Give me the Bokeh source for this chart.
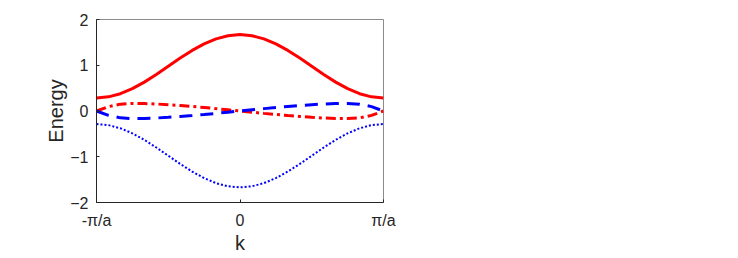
from bokeh.plotting import figure
from bokeh.models import FixedTicker, Range1d
from bokeh.embed import file_html
from bokeh.resources import INLINE

# k in units of pi/a
k = [-1.0, -0.9167, -0.8333, -0.75, -0.6667, -0.5833, -0.5, -0.4167, -0.3333, -0.25, -0.1667, -0.0833,
     0.0, 0.0833, 0.1667, 0.25, 0.3333, 0.4167, 0.5, 0.5833, 0.6667, 0.75, 0.8333, 0.9167, 1.0]

band_top = [0.285, 0.309, 0.378, 0.488, 0.631, 0.798, 0.978, 1.157, 1.324, 1.467, 1.577, 1.646,
            1.670, 1.646, 1.577, 1.467, 1.324, 1.157, 0.978, 0.798, 0.631, 0.488, 0.378, 0.309, 0.285]
band_mid_red = [0.0, 0.095, 0.150, 0.165, 0.162, 0.153, 0.138, 0.120, 0.099, 0.076, 0.052, 0.026,
                0.0, -0.026, -0.052, -0.076, -0.099, -0.120, -0.138, -0.153, -0.162, -0.165, -0.150, -0.095, 0.0]
band_mid_blue = [0.0, -0.095, -0.150, -0.165, -0.162, -0.153, -0.138, -0.120, -0.099, -0.076, -0.052, -0.026,
                 0.0, 0.026, 0.052, 0.076, 0.099, 0.120, 0.138, 0.153, 0.162, 0.165, 0.150, 0.095, 0.0]
band_bottom = [-0.285, -0.309, -0.378, -0.488, -0.631, -0.798, -0.978, -1.157, -1.324, -1.467, -1.577, -1.646,
               -1.670, -1.646, -1.577, -1.467, -1.324, -1.157, -0.978, -0.798, -0.631, -0.488, -0.378, -0.309, -0.285]

x_ticks = [-1, 0, 1]
x_tick_labels = ["-π/a", "0", "π/a"]
y_ticks = [-2, -1, 0, 1, 2]

FONT = "Liberation Sans"
AX = "#262626"

p = figure(width=420, height=256, output_backend="svg", toolbar_location=None,
           x_range=Range1d(-1, 1), y_range=Range1d(-2, 2),
           min_border_left=96, min_border_right=37, min_border_top=19, min_border_bottom=54)
p.grid.visible = False
p.outline_line_color = "#8c8c8c"
p.outline_line_width = 1

p.line(k, band_top, line_color="#ff0000", line_width=3)
p.line(k, band_mid_red, line_color="#ff0000", line_width=3, line_dash="10 4 3 4")
p.line(k, band_mid_blue, line_color="#0000ff", line_width=3, line_dash="13 8")
p.line(k, band_bottom, line_color="#0000ff", line_width=2, line_dash="2 2")

xa = p.xaxis[0]
xa.ticker = FixedTicker(ticks=x_ticks)
xa.major_label_overrides = {t: l for t, l in zip(x_ticks, x_tick_labels)}
ya = p.yaxis[0]
ya.ticker = FixedTicker(ticks=y_ticks)
xa.axis_label = "k"
ya.axis_label = "Energy"
for ax in (xa, ya):
    ax.axis_line_color = AX
    ax.major_tick_line_color = AX
    ax.major_tick_in = 3
    ax.major_tick_out = 0
    ax.minor_tick_line_color = None
    ax.major_label_text_font = FONT
    ax.major_label_text_font_size = "16px"
    ax.major_label_text_color = AX
    ax.axis_label_text_font = FONT
    ax.axis_label_text_font_size = "20px"
    ax.axis_label_text_font_style = "normal"
    ax.axis_label_text_color = AX
xa.major_label_standoff = 9
ya.major_label_standoff = 8
xa.axis_label_standoff = 0
ya.axis_label_standoff = 0

open("out.html", "w").write(file_html(p, INLINE))
